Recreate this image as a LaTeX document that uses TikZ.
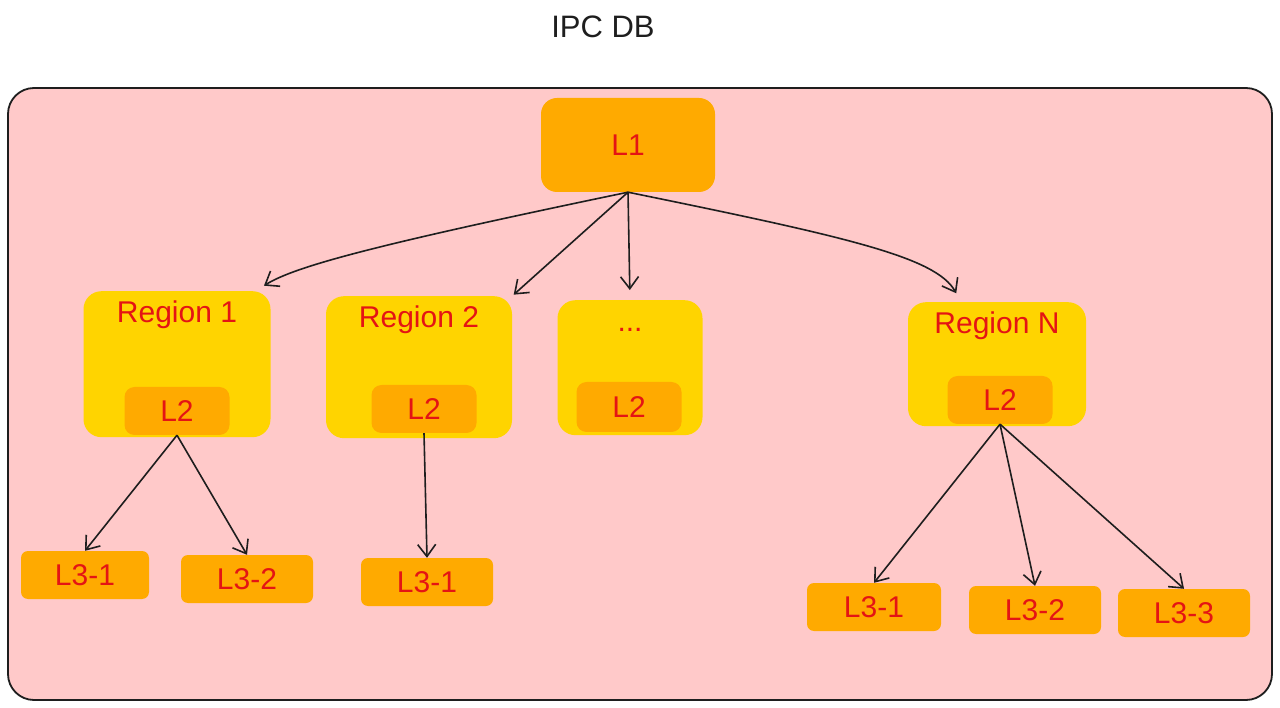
\documentclass[tikz,border=0pt]{standalone}
\usepackage{fontspec}
\setmainfont{Liberation Sans}
\usetikzlibrary{positioning,arrows.meta}
\definecolor{canvasclr}{RGB}{255,201,201}
\definecolor{regionclr}{RGB}{255,212,0}
\definecolor{levelclr}{RGB}{255,170,0}
\definecolor{labelclr}{RGB}{228,20,20}
\definecolor{inkclr}{RGB}{30,30,30}
\tikzset{
  level/.style={rectangle,fill=levelclr,rounded corners=8pt,text=labelclr,
                inner sep=0pt,font=\fontsize{30}{34}\selectfont},
  leaf/.style={level,minimum width=132pt,minimum height=48pt,rounded corners=7pt},
  inner/.style={level,minimum width=105pt,minimum height=48pt,rounded corners=10pt},
  region/.style={level,fill=regionclr,rounded corners=18pt,anchor=north,
                 text height=21pt,inner ysep=10pt},
  edge/.style={-{Straight Barb[length=12pt,width=18pt]},draw=inkclr,line width=1.6pt},
}

\begin{document}
\begin{tikzpicture}[x=1pt, y=-1pt]
\useasboundingbox (0,0) rectangle (1280,708);
\node[font=\fontsize{31}{34}\selectfont, text=inkclr] (title) at (603,27) {IPC DB};
\node[draw=inkclr, line width=1.8pt, fill=canvasclr, rounded corners=26pt,
      minimum width=1264pt, minimum height=612pt] (db) at (640,394) {};
\node[level, minimum width=174pt, minimum height=94pt, rounded corners=16pt] (l1) at (628,145) {L1};
% regions
\node[region, minimum width=187pt, text depth=105pt] (r1) at (177,291) {Region 1};
\node[region, minimum width=186pt, text depth=101pt] (r2) at (419,296) {Region 2};
\node[region, minimum width=145pt, text depth=94pt] (rd) at (630,300) {...};
\node[region, minimum width=178pt, text depth=83pt] (rn) at (997,302) {Region N};
\node[inner] (r1l2) at (177,411) {L2};
\node[inner] (r2l2) at (424,409) {L2};
\node[inner, minimum height=50pt] (rdl2) at (629,407) {L2};
\node[inner] (rnl2) at (1000,400) {L2};
% leaves
\node[leaf, minimum width=128pt] (r1a) at (85,575) {L3-1};
\node[leaf] (r1b) at (247,579) {L3-2};
\node[leaf] (r2a) at (427,582) {L3-1};
\node[leaf, minimum width=134pt] (rna) at (874,607) {L3-1};
\node[leaf] (rnb) at (1035,610) {L3-2};
\node[leaf] (rnc) at (1184,613) {L3-3};
% L1 -> regions
\draw[edge, shorten >=10pt] (l1.south) .. controls +(-250,52) and +(40,-25) .. (r1.43);
\draw[edge, shorten >=2pt] (l1.south) -- (r2.north east);
\draw[edge, shorten >=10pt] (l1.south) -- (rd.north);
\draw[edge, shorten >=10pt] (l1.south) .. controls +(220,45) and +(-25,-45) .. (rn.120);
% L2 -> L3
\draw[edge] (r1l2.south) -- (r1a.north);
\draw[edge] (r1l2.south) -- (r1b.north);
\draw[edge] (r2l2.south) -- (r2a.north);
\draw[edge] (rnl2.south) -- (rna.north);
\draw[edge] (rnl2.south) -- (rnb.north);
\draw[edge] (rnl2.south) -- (rnc.north);
\end{tikzpicture}
\end{document}
